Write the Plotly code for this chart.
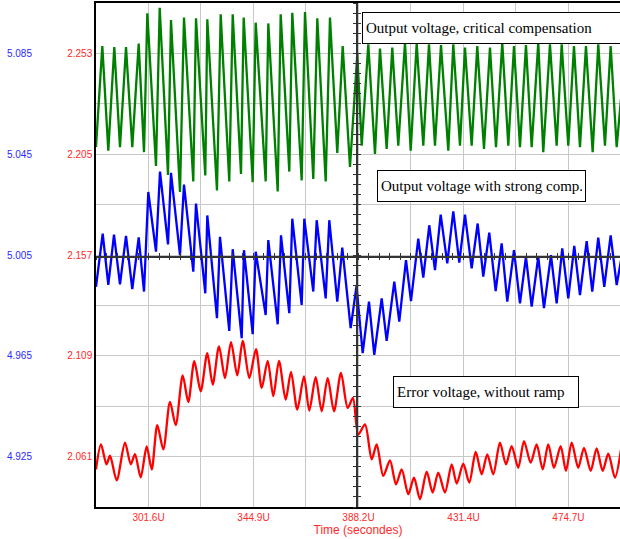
import plotly.graph_objects as go

# ---------------- data ----------------
# time axis (microseconds, shown with "U" suffix)
time_grid = [301.64, 323.28, 344.92, 366.56, 388.2, 409.84, 431.48, 453.12, 474.76]
time_ticks = [301.64, 344.92, 388.2, 431.48, 474.76]
time_labels = ["301.6U", "344.9U", "388.2U", "431.4U", "474.7U"]

# error-voltage scale (red labels)
err_grid = [2.061, 2.085, 2.109, 2.133, 2.157, 2.181, 2.205, 2.229, 2.253]
err_ticks = [2.061, 2.109, 2.157, 2.205, 2.253]
err_labels = ["2.061", "2.109", "2.157", "2.205", "2.253"]

# output-voltage scale (blue labels)
out_ticks = [4.925, 4.965, 5.005, 5.045, 5.085]
out_labels = ["4.925", "4.965", "5.005", "5.045", "5.085"]

# Output voltage, critical compensation (green) - peak/trough vertices
green_t = [280.00, 282.60, 285.07, 287.54, 289.89, 292.37, 294.96, 297.60, 299.79, 301.15,
           304.73, 306.26, 309.68, 310.91, 314.62, 316.27, 320.11, 321.22, 325.05, 325.88,
           329.87, 331.40, 334.94, 336.35, 339.77, 340.88, 344.59, 345.83, 349.95, 351.02,
           354.90, 356.13, 359.68, 360.91, 364.79, 366.15, 369.57, 371.22, 374.68, 376.45,
           379.46, 381.69, 384.70, 387.71, 389.52, 392.24, 395.00, 397.06, 399.82, 402.13,
           404.60, 407.37, 409.72, 412.19, 414.91, 417.26, 419.73, 422.21, 425.22, 427.28,
           430.04, 432.10, 434.86, 437.17, 439.93, 442.40, 444.88, 447.47, 449.95, 452.30,
           454.77, 457.24, 459.59, 462.31, 464.37, 467.13, 469.89, 471.96, 474.68, 477.03,
           479.50, 481.97, 484.73, 487.04, 489.80, 492.15, 494.63, 496.40]
green_v = [5.0479, 5.0879, 5.0464, 5.0875, 5.0478, 5.0875, 5.0478, 5.0889, 5.0458, 5.1009,
           5.0403, 5.1031, 5.0368, 5.0982, 5.0300, 5.0992, 5.0342, 5.0989, 5.0366, 5.0985,
           5.0306, 5.1005, 5.0342, 5.1005, 5.0372, 5.0992, 5.0339, 5.0972, 5.0342, 5.0969,
           5.0302, 5.1005, 5.0381, 5.1011, 5.0346, 5.1014, 5.0352, 5.0989, 5.0342, 5.0992,
           5.0455, 5.0879, 5.0399, 5.0847, 5.0484, 5.0886, 5.0451, 5.0869, 5.0471, 5.0873,
           5.0484, 5.0893, 5.0464, 5.0890, 5.0484, 5.0886, 5.0484, 5.0883, 5.0464, 5.0886,
           5.0484, 5.0873, 5.0484, 5.0879, 5.0471, 5.0873, 5.0478, 5.0893, 5.0484, 5.0879,
           5.0478, 5.0883, 5.0478, 5.0893, 5.0458, 5.0886, 5.0484, 5.0886, 5.0484, 5.0879,
           5.0478, 5.0879, 5.0458, 5.0886, 5.0484, 5.0879, 5.0478, 5.0669]

# Output voltage with strong compensation (blue)
blue_t = [280.00, 282.76, 285.07, 287.42, 289.89, 292.37, 294.96, 297.60, 299.79, 301.56,
          304.73, 306.38, 309.68, 310.91, 314.62, 316.27, 320.11, 321.22, 325.05, 325.88,
          329.87, 331.11, 334.94, 336.35, 340.06, 341.00, 344.59, 345.83, 349.95, 351.02,
          354.90, 356.26, 359.68, 360.91, 364.79, 365.86, 369.57, 370.97, 374.68, 376.16,
          379.46, 381.52, 384.98, 387.38, 389.93, 392.53, 394.71, 397.76, 399.82, 402.96,
          405.02, 407.78, 409.84, 412.85, 414.91, 417.38, 419.73, 422.08, 424.80, 427.28,
          429.75, 432.10, 434.86, 437.33, 439.64, 442.11, 444.75, 447.22, 449.53, 452.30,
          454.77, 457.24, 459.59, 462.31, 464.66, 467.55, 469.89, 472.20, 474.68, 477.15,
          479.50, 482.26, 484.57, 487.04, 489.52, 492.15, 494.63, 496.40]
blue_v = [4.9924, 5.0135, 4.9931, 5.0131, 4.9933, 5.0126, 4.9915, 5.0120, 4.9905, 5.0300,
          5.0063, 5.0381, 5.0092, 5.0376, 5.0049, 5.0329, 4.9984, 5.0254, 4.9898, 5.0207,
          4.9799, 5.0122, 4.9749, 5.0073, 4.9720, 5.0069, 4.9736, 5.0063, 4.9812, 5.0109,
          4.9775, 5.0128, 4.9819, 5.0194, 4.9852, 5.0194, 4.9905, 5.0188, 4.9878, 5.0188,
          4.9865, 5.0079, 4.9760, 4.9926, 4.9661, 4.9865, 4.9654, 4.9878, 4.9709, 4.9944,
          4.9786, 5.0030, 4.9867, 5.0115, 4.9960, 5.0168, 4.9990, 5.0210, 5.0017, 5.0223,
          5.0020, 5.0210, 4.9997, 5.0175, 4.9964, 5.0139, 4.9907, 5.0096, 4.9865, 5.0069,
          4.9858, 5.0043, 4.9845, 5.0043, 4.9839, 5.0049, 4.9858, 5.0076, 4.9878, 5.0086,
          4.9891, 5.0105, 4.9905, 5.0119, 4.9924, 5.0128, 4.9931, 5.0028]

# Error voltage, without ramp (red)
red_t = [280.00, 282.06, 284.33, 285.77, 288.53, 291.95, 294.34, 296.08, 298.42, 300.90,
         302.96, 305.27, 307.74, 310.50, 312.85, 315.74, 318.04, 320.52, 323.16, 325.88,
         328.10, 330.70, 333.17, 335.65, 338.24, 340.47, 343.19, 345.95, 348.30, 350.77,
         353.08, 355.43, 358.19, 360.38, 362.97, 365.74, 367.92, 370.56, 373.03, 375.50,
         378.10, 380.99, 383.75, 385.93, 388.12, 390.88, 393.64, 395.70, 398.42, 401.18,
         403.66, 406.01, 408.73, 411.08, 413.55, 416.31, 418.78, 421.09, 423.85, 426.62,
         428.68, 431.40, 433.87, 436.51, 438.98, 441.29, 443.76, 446.52, 449.00, 451.35,
         454.07, 456.42, 459.18, 461.65, 464.13, 466.43, 468.78, 471.54, 473.73, 476.08,
         478.80, 481.15, 483.91, 486.38, 488.86, 491.17, 493.93, 496.40]
red_v = [2.0549, 2.0668, 2.0573, 2.0614, 2.0497, 2.0676, 2.0573, 2.0622, 2.0511, 2.0658,
         2.0549, 2.0760, 2.0644, 2.0870, 2.0760, 2.0997, 2.0870, 2.1064, 2.0921, 2.1103,
         2.0953, 2.1135, 2.0984, 2.1155, 2.0997, 2.1161, 2.0984, 2.1122, 2.0937, 2.1066,
         2.0898, 2.1066, 2.0881, 2.1013, 2.0834, 2.0992, 2.0829, 2.0988, 2.0826, 2.0984,
         2.0826, 2.1008, 2.0842, 2.0889, 2.0715, 2.0763, 2.0597, 2.0668, 2.0518, 2.0592,
         2.0478, 2.0549, 2.0431, 2.0510, 2.0407, 2.0538, 2.0439, 2.0534, 2.0439, 2.0573,
         2.0482, 2.0576, 2.0486, 2.0632, 2.0526, 2.0621, 2.0526, 2.0676, 2.0573, 2.0660,
         2.0557, 2.0684, 2.0581, 2.0668, 2.0549, 2.0668, 2.0557, 2.0660, 2.0542, 2.0676,
         2.0557, 2.0652, 2.0542, 2.0649, 2.0542, 2.0624, 2.0510, 2.0643]

legend_texts = ["Output voltage, critical compensation",
                "Output voltage with strong comp.",
                "Error voltage, without ramp"]

# ---------------- figure ----------------
W, H = 620, 539
ML, MT, MB = 0, 3, 32
X_RANGE = [280.0, 496.0]
ERR_RANGE = [2.037, 2.277]
OUT_RANGE = [4.905, 5.105]
RED_TXT = "#ff2a2a"
BLUE_TXT = "#2a2aff"
GRID = "#c8c8c8"
AXC = "#333333"
SANS = "Liberation Sans, Arial, sans-serif"
SERIF = "Liberation Serif, Times New Roman, serif"

fig = go.Figure()
fig.add_trace(go.Scatter(x=green_t, y=green_v, mode="lines", xaxis="x", yaxis="y2",
                         line=dict(color="#008000", width=2.3), showlegend=False))
fig.add_trace(go.Scatter(x=blue_t, y=blue_v, mode="lines", xaxis="x", yaxis="y2",
                         line=dict(color="#0000ff", width=2.3), showlegend=False))
fig.add_trace(go.Scatter(x=red_t, y=red_v, mode="lines", xaxis="x", yaxis="y",
                         line=dict(color="#ff0000", width=2.3, shape="spline", smoothing=0.8),
                         showlegend=False))
# empty traces attaching the crosshair axes
for xa, ya in [("x2", "y"), ("x3", "y"), ("x", "y3"), ("x", "y4")]:
    fig.add_trace(go.Scatter(x=[], y=[], xaxis=xa, yaxis=ya, showlegend=False,
                             hoverinfo="skip"))

xdom = [96 / W, 1.0]
cross_y = (507 - 256.5) / 504.0
cross_x = 357 / W

common_x = dict(range=X_RANGE, showgrid=False, zeroline=False, showticklabels=False,
                overlaying="x", anchor="free", position=cross_y, domain=xdom,
                showline=True, linecolor=AXC, linewidth=1.5,
                tickmode="linear", tick0=280.0, dtick=4.328, ticklen=3,
                tickcolor=AXC, tickwidth=1)
common_y = dict(range=ERR_RANGE, showgrid=False, zeroline=False, showticklabels=False,
                overlaying="y", anchor="free", position=cross_x,
                showline=True, linecolor=AXC, linewidth=1.5,
                tickmode="linear", tick0=2.157, dtick=0.0048, ticklen=3,
                tickcolor=AXC, tickwidth=1)

fig.update_layout(
    width=W, height=H,
    margin=dict(l=ML, r=0, t=MT, b=MB, pad=0),
    paper_bgcolor="white", plot_bgcolor="white",
    showlegend=False,
    xaxis=dict(domain=xdom, range=X_RANGE, tickmode="array",
               tickvals=time_grid,
               ticktext=[time_labels[time_ticks.index(v)] if v in time_ticks else "" for v in time_grid],
               showgrid=True, gridcolor=GRID, gridwidth=1.3, zeroline=False,
               showline=True, linecolor="black", linewidth=2, mirror=True,
               ticks="", tickfont=dict(family=SANS, size=10, color=RED_TXT),
               title=dict(text="Time (secondes)", font=dict(family=SANS, size=12, color=RED_TXT),
                          standoff=1),
               automargin=False),
    yaxis=dict(range=ERR_RANGE, domain=[0, 1], anchor="x", tickmode="array",
               tickvals=err_grid,
               ticktext=[err_labels[err_ticks.index(v)] if v in err_ticks else "" for v in err_grid],
               showgrid=True, gridcolor=GRID, gridwidth=1.3, zeroline=False,
               showline=True, linecolor="black", linewidth=1.5,
               ticks="", tickfont=dict(family=SANS, size=10, color=RED_TXT),
               automargin=False),
    yaxis2=dict(range=OUT_RANGE, overlaying="y", anchor="free", position=32 / W,
                side="left", tickmode="array", tickvals=out_ticks, ticktext=out_labels,
                showgrid=False, zeroline=False, showline=False, ticks="",
                tickfont=dict(family=SANS, size=10, color=BLUE_TXT), automargin=False),
    xaxis2=dict(common_x, ticks="outside"),
    xaxis3=dict(common_x, ticks="inside"),
    yaxis3=dict(common_y, ticks="outside"),
    yaxis4=dict(common_y, ticks="inside"),
)

boxes = [  # (left px, top px, width)
    (362, 12.3, 257),
    (376.7, 170, 201),
    (393.3, 375.7, 178),
]
for txt, (lx, ty, wd) in zip(legend_texts, boxes):
    fig.add_annotation(text=txt, xref="paper", yref="paper",
                       x=lx / W, y=1 - (ty - MT) / 504.0,
                       xanchor="left", yanchor="top", showarrow=False,
                       align="left", width=wd, height=24,
                       bgcolor="white", bordercolor="black", borderwidth=1, borderpad=3,
                       font=dict(family=SERIF, size=15, color="black"))

fig.write_html("out.html", config={"displayModeBar": False},
               post_script="document.body.style.margin='0';document.body.style.overflow='hidden';")
